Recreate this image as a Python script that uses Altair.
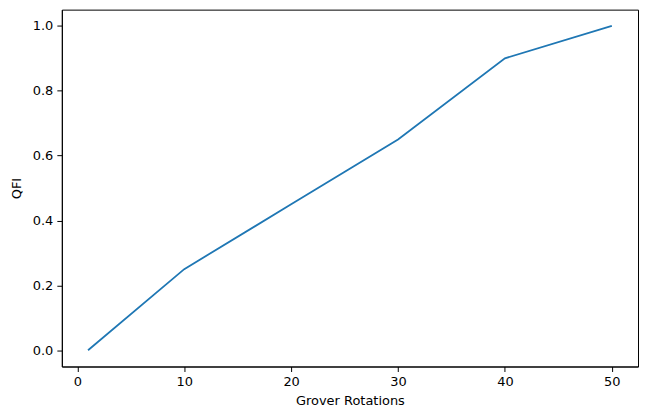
import altair as alt
import pandas as pd

rotations = [1, 10, 20, 30, 40, 50]
qfi = [0.0, 0.25, 0.45, 0.65, 0.9, 1.0]
x_ticks = [0, 10, 20, 30, 40, 50]
y_ticks = [0.0, 0.2, 0.4, 0.6, 0.8, 1.0]

df = pd.DataFrame({"Grover Rotations": rotations, "QFI": qfi})

font = "DejaVu Sans"

chart = alt.Chart(df).mark_line(color="#1f77b4", strokeWidth=1.8, clip=True).encode(
    x=alt.X("Grover Rotations:Q",
            scale=alt.Scale(domain=[-1.45, 52.45], nice=False, zero=False),
            axis=alt.Axis(values=x_ticks, format="d", grid=False, title="Grover Rotations",
                          titlePadding=6, labelPadding=4, tickSize=5)),
    y=alt.Y("QFI:Q",
            scale=alt.Scale(domain=[-0.05, 1.05], nice=False, zero=False),
            axis=alt.Axis(values=y_ticks, format=".1f", grid=False, title="QFI",
                          titlePadding=9, labelPadding=4, tickSize=5)),
).properties(
    width=578, height=358,
    autosize=alt.AutoSizeParams(type="none"),
    padding={"left": 54, "top": 1, "right": 5, "bottom": 44},
).configure_view(
    stroke="black", strokeWidth=1
).configure_axis(
    domainColor="black", tickColor="black", labelColor="black", titleColor="black",
    labelFont=font, titleFont=font, labelFontSize=13, titleFontSize=13,
    titleFontWeight="normal", domainWidth=1, tickWidth=1
)

chart.save("out.html", embed_options={"renderer": "svg", "actions": False})
